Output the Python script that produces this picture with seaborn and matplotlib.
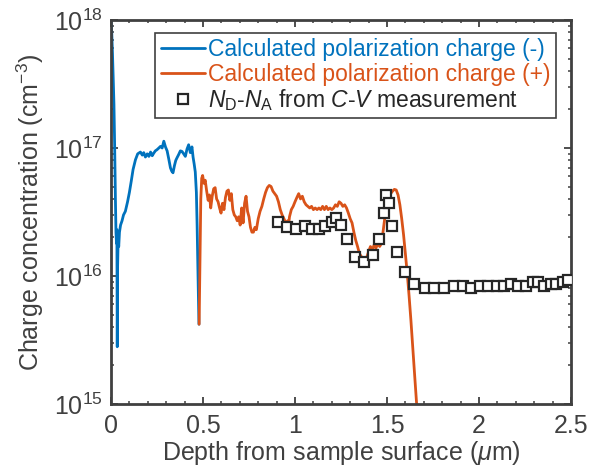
import numpy as np
import pandas as pd
import matplotlib
matplotlib.use("Agg")
import matplotlib.pyplot as plt
import seaborn as sns
from matplotlib.ticker import MultipleLocator, LogLocator, NullFormatter

# ---------------- data ----------------
blue_x = [0.0, 0.004, 0.008, 0.012, 0.016, 0.020, 0.024, 0.027, 0.030, 0.032, 0.034, 0.036,
          0.039, 0.042, 0.046, 0.052, 0.060, 0.068, 0.078, 0.090, 0.100, 0.110, 0.120, 0.133,
          0.145, 0.160, 0.170, 0.178, 0.187, 0.197, 0.206, 0.215, 0.224, 0.232, 0.241, 0.250,
          0.260, 0.269, 0.278, 0.287, 0.296, 0.305, 0.314, 0.323, 0.330, 0.337, 0.345, 0.352,
          0.359, 0.368, 0.377, 0.386, 0.395, 0.404, 0.413, 0.422, 0.431, 0.440, 0.446, 0.452,
          0.458, 0.464, 0.468, 0.472, 0.475, 0.478]
blue_y = [1.0e18, 8.0e17, 5.5e17, 3.5e17, 2.2e17, 1.0e17, 4.0e16, 2.2e16, 1.8e16, 2.3e16, 2.8e15, 1.2e16,
          2.0e16, 1.7e16, 2.2e16, 2.5e16, 2.7e16, 3.0e16, 3.2e16, 3.8e16, 4.5e16, 5.5e16, 6.8e16, 8.1e16,
          9.0e16, 9.3e16, 8.8e16, 9.2e16, 8.5e16, 9.0e16, 8.6e16, 9.3e16, 8.7e16, 9.1e16, 9.5e16, 9.7e16,
          1.0e17, 1.03e17, 1.0e17, 1.13e17, 1.02e17, 9.5e16, 8.2e16, 7.0e16, 6.6e16, 6.4e16, 7.3e16, 8.0e16,
          8.4e16, 8.9e16, 9.5e16, 9.4e16, 9.0e16, 8.6e16, 9.8e16, 1.06e17, 9.2e16, 1.02e17, 8.5e16, 7.5e16,
          6.5e16, 4.5e16, 2.5e16, 1.2e16, 7.0e15, 4.2e15]

orange_x = [0.479, 0.484, 0.488, 0.493, 0.498, 0.505, 0.512, 0.520, 0.528, 0.535, 0.542, 0.550,
            0.558, 0.566, 0.574, 0.582, 0.590, 0.598, 0.606, 0.614, 0.622, 0.630, 0.638, 0.646,
            0.654, 0.662, 0.670, 0.678, 0.686, 0.694, 0.702, 0.710, 0.718, 0.726, 0.734, 0.742,
            0.750, 0.758, 0.766, 0.774, 0.782, 0.790, 0.800, 0.810, 0.820, 0.830, 0.840, 0.850,
            0.860, 0.870, 0.880, 0.890, 0.900, 0.910, 0.920, 0.930, 0.940, 0.950, 0.960, 0.965,
            0.970, 0.980, 0.990, 1.000, 1.010, 1.020, 1.030, 1.040, 1.050, 1.060, 1.070, 1.080,
            1.090, 1.100, 1.110, 1.120, 1.130, 1.140, 1.150, 1.160, 1.170, 1.180, 1.190, 1.200,
            1.210, 1.220, 1.230, 1.240, 1.250, 1.260, 1.270, 1.280, 1.290, 1.300, 1.310, 1.320,
            1.330, 1.340, 1.350, 1.360, 1.370, 1.380, 1.390, 1.400, 1.410, 1.420, 1.430, 1.440,
            1.450, 1.460, 1.470, 1.480, 1.490, 1.500, 1.510, 1.520, 1.530, 1.540, 1.550, 1.560,
            1.570, 1.580, 1.590, 1.600, 1.610, 1.620, 1.630, 1.640, 1.650, 1.660, 1.670]
orange_y = [4.2e15, 1.5e16, 4.0e16, 5.8e16, 6.1e16, 5.3e16, 5.6e16, 4.6e16, 3.9e16, 4.3e16, 3.4e16, 4.2e16,
            4.8e16, 4.9e16, 4.0e16, 3.8e16, 3.4e16, 3.1e16, 3.7e16, 3.3e16, 4.1e16, 4.6e16, 4.7e16, 3.9e16,
            4.4e16, 3.3e16, 3.0e16, 2.9e16, 2.7e16, 2.9e16, 2.5e16, 3.4e16, 2.6e16, 3.7e16, 4.2e16, 3.2e16,
            2.9e16, 2.4e16, 2.2e16, 2.2e16, 2.4e16, 2.3e16, 2.8e16, 3.2e16, 3.5e16, 4.0e16, 4.5e16, 4.9e16,
            5.1e16, 5.0e16, 4.6e16, 4.4e16, 4.2e16, 3.8e16, 3.3e16, 3.0e16, 2.8e16, 2.6e16, 2.7e16, 2.5e16,
            2.9e16, 3.3e16, 3.5e16, 3.8e16, 4.1e16, 4.4e16, 4.0e16, 4.2e16, 3.8e16, 3.6e16, 3.5e16, 3.4e16,
            3.5e16, 3.3e16, 3.4e16, 3.3e16, 3.4e16, 3.3e16, 3.5e16, 3.3e16, 3.5e16, 3.3e16, 3.4e16, 3.3e16,
            3.4e16, 3.6e16, 3.5e16, 3.8e16, 3.7e16, 3.5e16, 3.6e16, 3.4e16, 3.1e16, 2.8e16, 2.6e16, 2.2e16,
            1.9e16, 1.7e16, 1.5e16, 1.42e16, 1.38e16, 1.35e16, 1.4e16, 1.55e16, 1.7e16, 1.6e16, 1.75e16, 1.65e16,
            1.8e16, 1.7e16, 1.8e16, 2.3e16, 3.0e16, 3.6e16, 4.1e16, 4.4e16, 4.6e16, 4.75e16, 4.7e16, 4.3e16,
            3.6e16, 2.8e16, 2.1e16, 1.5e16, 1.05e16, 7.0e15, 4.5e15, 2.8e15, 1.7e15, 1.05e15, 7.0e14]

cv_x = [0.910, 0.956, 1.006, 1.052, 1.092, 1.128, 1.164, 1.200, 1.224, 1.250, 1.280, 1.327,
        1.377, 1.422, 1.457, 1.486, 1.495, 1.510, 1.525, 1.555, 1.600, 1.648, 1.706, 1.757,
        1.811, 1.862, 1.914, 1.956, 2.005, 2.050, 2.096, 2.137, 2.173, 2.210, 2.253, 2.294,
        2.320, 2.354, 2.390, 2.420, 2.457, 2.484]
cv_y = [2.63e16, 2.40e16, 2.34e16, 2.45e16, 2.34e16, 2.34e16, 2.45e16, 2.63e16, 2.82e16, 2.51e16, 1.95e16, 1.41e16,
        1.29e16, 1.45e16, 1.95e16, 3.09e16, 4.27e16, 3.72e16, 2.45e16, 1.55e16, 1.07e16, 8.7e15, 8.13e15, 8.13e15,
        8.13e15, 8.32e15, 8.32e15, 8.13e15, 8.32e15, 8.32e15, 8.32e15, 8.32e15, 8.71e15, 8.32e15, 8.32e15, 8.91e15,
        8.91e15, 8.32e15, 8.71e15, 8.71e15, 8.91e15, 9.33e15]

x_ticks = [0, 0.5, 1, 1.5, 2, 2.5]
x_tick_labels = ["0", "0.5", "1", "1.5", "2", "2.5"]
y_ticks = [1e15, 1e16, 1e17, 1e18]
y_tick_labels = [r"$10^{15}$", r"$10^{16}$", r"$10^{17}$", r"$10^{18}$"]

label_neg = "Calculated polarization charge (-)"
label_pos = "Calculated polarization charge (+)"
label_cv = r"$N_\mathrm{D}$-$N_\mathrm{A}$ from $C$-$V$ measurement"
x_label = r"Depth from sample surface ($\mu$m)"
y_label = r"Charge concentration (cm$^{-3}$)"

# ---------------- style ----------------
sns.set_style("ticks")
plt.rcParams["font.family"] = ["Liberation Sans", "DejaVu Sans"]
plt.rcParams["mathtext.fontset"] = "custom"
plt.rcParams["mathtext.rm"] = "Liberation Sans"
plt.rcParams["mathtext.it"] = "Liberation Sans:italic"
plt.rcParams["mathtext.bf"] = "Liberation Sans:bold"

BLUE = "#0072BD"
ORANGE = "#D95319"
GRAY = "#404040"

fig = plt.figure(figsize=(6.0, 4.67), dpi=100)
ax = fig.add_axes([111 / 600, 63 / 467, 460 / 600, 384 / 467])
ax.set_yscale("log")

sns.lineplot(x=blue_x, y=blue_y, ax=ax, color=BLUE, linewidth=2.0, sort=False,
             estimator=None, label=label_neg, zorder=2)
sns.lineplot(x=orange_x, y=orange_y, ax=ax, color=ORANGE, linewidth=2.0, sort=False,
             estimator=None, label=label_pos, zorder=2)
sns.lineplot(x=cv_x, y=cv_y, ax=ax, color="#262626", linestyle="", marker="s",
             markersize=6.5, markerfacecolor="white", markeredgecolor="#262626",
             markeredgewidth=1.6, sort=False, estimator=None, label=label_cv, zorder=3)

ax.set_xlim(0, 2.5)
ax.set_ylim(1e15, 1e18)
ax.set_xticks(x_ticks, x_tick_labels)
ax.set_yticks(y_ticks, y_tick_labels)
ax.xaxis.set_minor_locator(MultipleLocator(0.1))
ax.yaxis.set_minor_locator(LogLocator(base=10, subs=np.arange(2, 10)))
ax.yaxis.set_minor_formatter(NullFormatter())

for s in ax.spines.values():
    s.set_visible(True)
    s.set_linewidth(2.0)
    s.set_color(GRAY)

ax.tick_params(which="both", direction="in", top=True, right=True, colors=GRAY,
               labelcolor=GRAY, labelsize=18)
ax.tick_params(which="major", length=5, width=1.3)
ax.tick_params(which="minor", length=2.5, width=1.1)
ax.tick_params(axis="x", which="major", pad=7)
ax.tick_params(axis="y", which="major", pad=6)

ax.set_xlabel(x_label, fontsize=18, color=GRAY, labelpad=1)
ax.set_ylabel(y_label, fontsize=18, color=GRAY, labelpad=6)

handles, labels = ax.get_legend_handles_labels()
leg = ax.legend(handles, labels, loc="upper right", bbox_to_anchor=(0.968, 0.967),
                borderaxespad=0, fontsize=16.5, frameon=True, fancybox=False,
                edgecolor=GRAY, framealpha=1, labelspacing=0.05, handlelength=1.9,
                handletextpad=0.15, borderpad=0.25)
leg.get_frame().set_linewidth(1.2)
for txt, c in zip(leg.get_texts(), [BLUE, ORANGE, "#262626"]):
    txt.set_color(c)

fig.savefig("out.png", dpi=100)
